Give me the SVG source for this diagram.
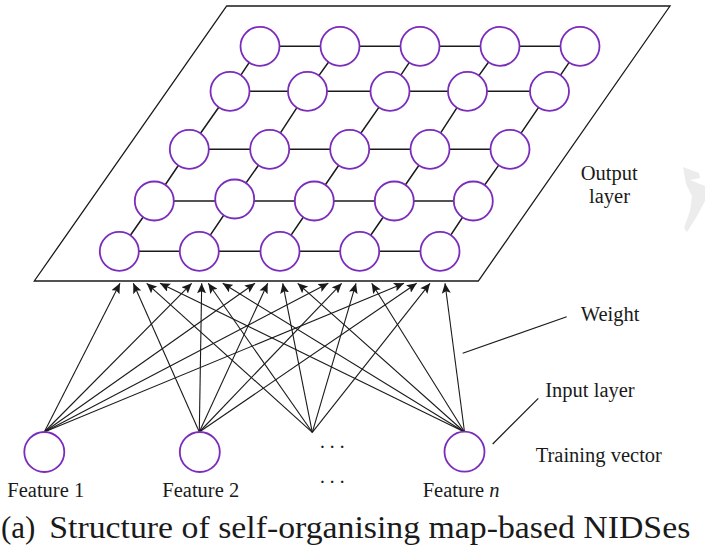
<svg xmlns="http://www.w3.org/2000/svg" width="705" height="550" viewBox="0 0 705 550">
  <style>
    .node { fill: #ffffff; stroke: #7b2cbb; stroke-width: 1.8; }
    .mesh { stroke: #1a1a1a; stroke-width: 1.5; fill: none; }
    .plane { fill: none; stroke: #1a1a1a; stroke-width: 1.3; }
    .wt { stroke: #1a1a1a; stroke-width: 1.1; fill: none; marker-end: url(#tip); }
    .ptr { stroke: #1a1a1a; stroke-width: 1.2; fill: none; }
    .lbl { font-family: "Liberation Serif", "DejaVu Serif", serif; font-size: 20.5px; fill: #1a1a1a; }
    .cap { font-family: "Liberation Serif", "DejaVu Serif", serif; font-size: 31px; fill: #1a1a1a; }
  </style>
  <defs>
    <marker id="tip" markerUnits="userSpaceOnUse" markerWidth="11" markerHeight="9" refX="10" refY="4.5" orient="auto">
      <path d="M0,0 L10,4.5 L0,9 L2,4.5 z" fill="#1a1a1a"/>
    </marker>
  </defs>

  <rect width="705" height="550" fill="#ffffff"/>

  <!-- faint mark at the right margin -->
  <path d="M683,167 L699,173 L700,178 L690,180 L705,186 L705,201 L697,216 L687,232 L684,228 L690,211 L692,196 L686,184 Z" fill="#ececec"/>

  <!-- output layer plane -->
  <polygon class="plane" points="226.7,6 670,6 478.3,281 34.3,281"/>

  <!-- lattice links of the output layer -->
  <g id="lattice-links" class="mesh">
    <!-- rows -->
    <polyline points="260,46.3 340,46.3 420,46.3 500,46.3 580,46.3"/>
    <polyline points="230,91.3 307.5,91.3 390,91.3 467.5,91.3 549.5,91.3"/>
    <polyline points="189.3,149.3 269.7,149.3 349.7,149.3 430,149.3 510,149.3"/>
    <polyline points="154.3,201 234.7,201 314.3,201 394.3,201 473.3,201"/>
    <polyline points="119.3,251.3 199.3,251.3 280,251.3 359.7,251.3 440,251.3"/>
    <!-- columns -->
    <polyline points="260,46.3 230,91.3 189.3,149.3 154.3,201 119.3,251.3"/>
    <polyline points="340,46.3 307.5,91.3 269.7,149.3 234.7,199 199.3,251.3"/>
    <polyline points="420,46.3 390,91.3 349.7,149.3 314.3,201 280,251.3"/>
    <polyline points="500,46.3 467.5,91.3 430,149.3 394.3,201 359.7,251.3"/>
    <polyline points="580,46.3 549.5,91.3 510,149.3 473.3,201 440,251.3"/>
  </g>

  <!-- output neurons -->
  <g id="out-r1">
    <circle class="node" cx="260" cy="46.3" r="19.5"/>
    <circle class="node" cx="340" cy="46.3" r="19.5"/>
    <circle class="node" cx="420" cy="46.3" r="19.5"/>
    <circle class="node" cx="500" cy="46.3" r="19.5"/>
    <circle class="node" cx="580" cy="46.3" r="19.5"/>
  </g>
  <g id="out-r2">
    <circle class="node" cx="230" cy="91.3" r="19.5"/>
    <circle class="node" cx="307.5" cy="91.3" r="19.5"/>
    <circle class="node" cx="390" cy="91.3" r="19.5"/>
    <circle class="node" cx="467.5" cy="91.3" r="19.5"/>
    <circle class="node" cx="549.5" cy="91.3" r="19.5"/>
  </g>
  <g id="out-r3">
    <circle class="node" cx="189.3" cy="149.3" r="19.5"/>
    <circle class="node" cx="269.7" cy="149.3" r="19.5"/>
    <circle class="node" cx="349.7" cy="149.3" r="19.5"/>
    <circle class="node" cx="430" cy="149.3" r="19.5"/>
    <circle class="node" cx="510" cy="149.3" r="19.5"/>
  </g>
  <g id="out-r4">
    <circle class="node" cx="154.3" cy="201" r="19.5"/>
    <circle class="node" cx="234.7" cy="199" r="19.5"/>
    <circle class="node" cx="314.3" cy="201" r="19.5"/>
    <circle class="node" cx="394.3" cy="201" r="19.5"/>
    <circle class="node" cx="473.3" cy="201" r="19.5"/>
  </g>
  <g id="out-r5">
    <circle class="node" cx="119.3" cy="251.3" r="19.5"/>
    <circle class="node" cx="199.3" cy="251.3" r="19.5"/>
    <circle class="node" cx="280" cy="251.3" r="19.5"/>
    <circle class="node" cx="359.7" cy="251.3" r="19.5"/>
    <circle class="node" cx="440" cy="251.3" r="19.5"/>
  </g>

  <!-- weighted connections from the inputs to the plane -->
  <g id="weights">
    <!-- Feature 1 -->
    <line class="wt" x1="44.3" y1="432" x2="120" y2="283.3"/>
    <line class="wt" x1="44.3" y1="432" x2="191.7" y2="283.3"/>
    <line class="wt" x1="44.3" y1="432" x2="255" y2="283.3"/>
    <line class="wt" x1="44.3" y1="432" x2="328.3" y2="283.3"/>
    <line class="wt" x1="44.3" y1="432" x2="404" y2="283.3"/>
    <!-- Feature 2 -->
    <line class="wt" x1="199.3" y1="432" x2="133.3" y2="283.3"/>
    <line class="wt" x1="199.3" y1="432" x2="201.7" y2="283.3"/>
    <line class="wt" x1="199.3" y1="432" x2="267.7" y2="283.3"/>
    <line class="wt" x1="199.3" y1="432" x2="341.7" y2="283.3"/>
    <line class="wt" x1="199.3" y1="432" x2="416.7" y2="283.3"/>
    <!-- elided features -->
    <line class="wt" x1="312.3" y1="432.3" x2="146.7" y2="283.3"/>
    <line class="wt" x1="312.3" y1="432.3" x2="208.3" y2="283.3"/>
    <line class="wt" x1="312.3" y1="432.3" x2="282.7" y2="283.3"/>
    <line class="wt" x1="312.3" y1="432.3" x2="356" y2="283.3"/>
    <line class="wt" x1="312.3" y1="432.3" x2="430" y2="283.3"/>
    <!-- Feature n -->
    <line class="wt" x1="464.5" y1="432" x2="160" y2="283.3"/>
    <line class="wt" x1="464.5" y1="432" x2="222.7" y2="283.3"/>
    <line class="wt" x1="464.5" y1="432" x2="297.7" y2="283.3"/>
    <line class="wt" x1="464.5" y1="432" x2="371.7" y2="283.3"/>
    <line class="wt" x1="464.5" y1="432" x2="445" y2="283.3"/>
  </g>

  <!-- input neurons -->
  <g id="in-1">
    <circle class="node" cx="44.3" cy="452" r="20"/>
    <text class="lbl" x="7.3" y="497">Feature 1</text>
  </g>
  <g id="in-2">
    <circle class="node" cx="199.8" cy="452" r="20"/>
    <text class="lbl" x="162.3" y="497">Feature 2</text>
  </g>
  <g id="in-dots">
    <text class="lbl" x="319" y="454" letter-spacing="3">···</text>
    <text class="lbl" x="319" y="489" letter-spacing="3">···</text>
  </g>
  <g id="in-n">
    <circle class="node" cx="464.5" cy="451.7" r="20"/>
    <text class="lbl" x="422.7" y="497">Feature <tspan font-style="italic">n</tspan></text>
  </g>

  <!-- annotations -->
  <g id="annotations">
    <text class="lbl" x="580.7" y="180">Output</text>
    <text class="lbl" x="589" y="203">layer</text>
    <text class="lbl" x="580.7" y="321">Weight</text>
    <line class="ptr" x1="566.7" y1="316.7" x2="462.7" y2="353.3"/>
    <text class="lbl" x="545.3" y="396.7">Input layer</text>
    <line class="ptr" x1="538.3" y1="398.3" x2="492.7" y2="444"/>
    <text class="lbl" x="535.7" y="462">Training vector</text>
  </g>

  <!-- caption -->
  <g id="caption">
    <text class="cap" font-family="Liberation Serif, DejaVu Serif, serif" x="1" y="538">(a)</text>
    <text class="cap" font-family="Liberation Serif, DejaVu Serif, serif" x="49.3" y="538" textLength="641" lengthAdjust="spacingAndGlyphs">Structure of self-organising map-based NIDSes</text>
  </g>
</svg>
